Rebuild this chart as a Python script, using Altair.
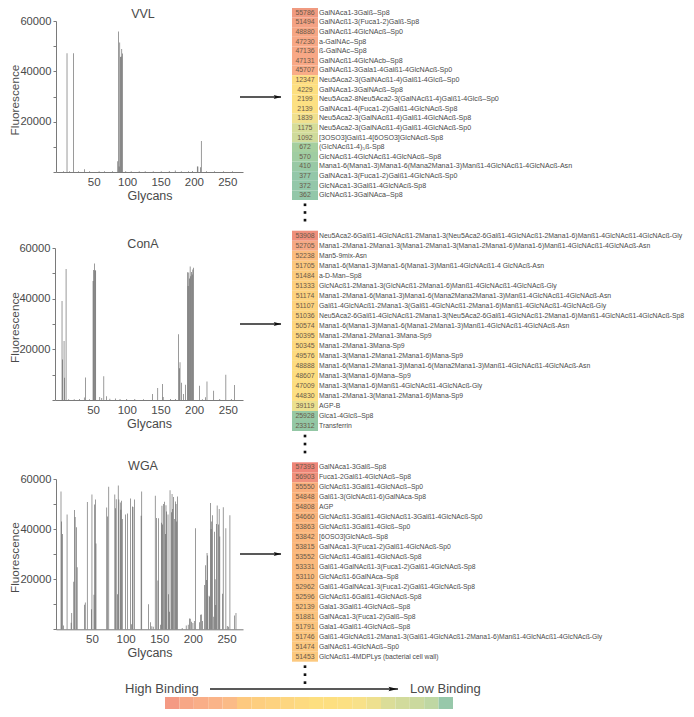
import altair as alt
import pandas as pd

CANVAS_W, CANVAS_H = 678, 701
TEXT = "#4a4a4a"
AXIS = "#7a7a7a"
FONT = "Liberation Sans"

vvl_glycans = [10, 20, 36, 86, 87, 88, 89, 90, 91, 92, 93, 172, 205, 206, 210, 211,
               5, 14, 27, 44, 58, 66, 78, 98, 106, 118, 127, 139, 151, 163, 181, 192, 198, 219, 231, 244, 258]
vvl_values = [47230, 47136, 1092, 4229, 55786, 2199, 51494, 45707, 45900, 48880, 47131, 570, 2139, 2139, 1839, 12347,
              300, 260, 280, 250, 300, 260, 310, 300, 280, 320, 270, 330, 290, 350, 300, 340, 377, 330, 300, 280, 260]

cona_glycans = [4, 5, 7, 8, 10, 37, 39, 50, 51, 52, 53, 54, 60, 63, 66, 70, 138, 146, 153, 154, 177, 178, 179, 181, 184, 187,
                190, 191, 192, 193, 194, 195, 196, 197, 198, 199, 208, 217, 219, 229, 247, 260,
                14, 22, 30, 45, 75, 83, 90, 100, 112, 125, 165, 172, 212, 238, 255]
cona_values = [39119, 16000, 23312, 8800, 51705, 1000, 8900, 47009, 51333, 53908, 51174, 51107, 1200, 800, 9400, 1500, 2400, 4700, 6300, 1200, 25928, 12500, 14900, 6800, 2400, 6000,
               50395, 45000, 50345, 48000, 52705, 48888, 50574, 49576, 51484, 52238, 5600, 1100, 7300, 3700, 10000, 5900,
               320, 300, 350, 300, 500, 600, 400, 380, 350, 340, 420, 400, 330, 350, 360]

wga_glycans = [4, 5, 6, 8, 13, 19, 20, 23, 24, 25, 27, 28, 39, 40, 43, 49, 50, 53, 54, 55, 56,
               72, 73, 75, 84, 85, 86, 88, 89, 90, 92, 93, 94, 95, 100, 103, 107, 109, 110, 111, 113,
               123, 124, 134, 137, 139, 141, 144, 146, 148, 149, 152, 153, 154, 155, 156, 158, 159, 160, 161,
               163, 164, 165, 166, 168, 169, 170, 171, 173, 174, 175, 176, 177,
               184, 190, 193, 195, 196, 198, 200, 202, 204, 210, 211, 213, 214, 217, 219, 220, 221, 222,
               224, 225, 226, 227, 228, 229, 231, 232, 233, 234, 235, 236, 238, 239, 240,
               244, 245, 249, 251, 253, 255, 262, 264]
wga_values = [55000, 43000, 38000, 1500, 45800, 2600, 6500, 19000, 47600, 44800, 40700, 24800, 9800, 10700, 50800, 8000, 53800, 13800, 49800, 51800, 34300,
              48600, 45000, 56903, 53800, 48300, 51900, 14000, 57393, 51800, 50600, 47700, 51300, 44000, 45800, 46200, 52200, 2000, 49000, 48800, 51800,
              45300, 55000, 10000, 2800, 1200, 1000, 53300, 44400, 19500, 44300, 1800, 42500, 49300, 41800, 50000, 50900, 38000, 49500, 47000,
              45800, 14000, 7000, 55550, 46700, 54000, 48000, 52800, 44000, 51000, 50000, 43000, 53000,
              500, 1500, 1800, 4300, 4200, 3000, 2500, 3300, 40300, 2800, 5800, 5900, 3300, 17700, 25600, 19700, 30500, 29500,
              13400, 13000, 50400, 40000, 43000, 45500, 5000, 38900, 20000, 9700, 42000, 49400, 41800, 48000, 37000,
              14200, 48700, 40300, 1300, 1000, 45500, 5500, 6500]

vvl_table_values = ["55786", "51494", "48880", "47230", "47136", "47131", "45707", "12347", "4229", "2199",
                    "2139", "1839", "1175", "1092", "672", "570", "410", "377", "372", "362"]
vvl_table_names = ["GalNAca1-3Galß–Sp8", "GalNAcß1-3(Fuca1-2)Galß-Sp8", "GalNAcß1-4GlcNAcß–Sp0", "a-GalNAc–Sp8",
                   "ß-GalNAc–Sp8", "GalNAcß1-4GlcNAcb–Sp8", "GalNAcß1-3Gala1-4Galß1-4GlcNAcß-Sp0",
                   "Neu5Aca2-3(GalNAcß1-4)Galß1-4Glcß–Sp0", "GalNAca1-3GalNAcß–Sp8",
                   "Neu5Aca2-8Neu5Aca2-3(GalNAcß1-4)Galß1-4Glcß–Sp0", "GalNAca1-4(Fuca1-2)Galß1-4GlcNAcß-Sp8",
                   "Neu5Aca2-3(GalNAcß1-4)Galß1-4GlcNAcß-Sp8", "Neu5Aca2-3(GalNAcß1-4)Galß1-4GlcNAcß-Sp0",
                   "[3OSO3]Galß1-4[6OSO3]GlcNAcß-Sp8", "(GlcNAcß1-4)₅ß-Sp8", "GlcNAcß1-4GlcNAcß1-4GlcNAcß–Sp8",
                   "Mana1-6(Mana1-3)Mana1-6(Mana2Mana1-3)Manß1-4GlcNAcß1-4GlcNAcß-Asn", "GalNAca1-3(Fuca1-2)Galß1-4GlcNAcß-Sp0",
                   "GlcNAca1-3Galß1-4GlcNAcß-Sp8", "GlcNAcß1-3GalNAca–Sp8"]
vvl_table_colors = ["#F09A80", "#F4A284", "#F6A684", "#F8A886", "#F8A886", "#F8A886", "#F9AC87", "#FDDC80", "#FDDF80", "#FDE082",
                    "#FCE083", "#F0E08E", "#D6DD99", "#CFDB9C", "#A5CFA0", "#A0CDA2", "#98C9A5", "#93C7A9", "#93C7A9", "#93C7A9"]

cona_table_values = ["53908", "52705", "52238", "51705", "51484", "51333", "51174", "51107", "51036", "50574",
                     "50395", "50345", "49576", "48888", "48607", "47009", "44830", "39119", "25928", "23312"]
cona_table_names = ["Neu5Aca2-6Galß1-4GlcNAcß1-2Mana1-3(Neu5Aca2-6Galß1-4GlcNAcß1-2Mana1-6)Manß1-4GlcNAcß1-4GlcNAcß-Gly",
                    "Mana1-2Mana1-2Mana1-3(Mana1-2Mana1-3(Mana1-2Mana1-6)Mana1-6)Manß1-4GlcNAcß1-4GlcNAcß-Asn",
                    "Man5-9mix-Asn", "Mana1-6(Mana1-3)Mana1-6(Mana1-3)Manß1-4GlcNAcß1-4 GlcNAcß-Asn", "a-D-Man–Sp8",
                    "GlcNAcß1-2Mana1-3(GlcNAcß1-2Mana1-6)Manß1-4GlcNAcß1-4GlcNAcß-Gly",
                    "Mana1-2Mana1-6(Mana1-3)Mana1-6(Mana2Mana2Mana1-3)Manß1-4GlcNAcß1-4GlcNAcß-Asn",
                    "Galß1-4GlcNAcß1-2Mana1-3(Galß1-4GlcNAcß1-2Mana1-6)Manß1-4GlcNAcß1-4GlcNAcß-Gly",
                    "Neu5Aca2-6Galß1-4GlcNAcß1-2Mana1-3(Neu5Aca2-6Galß1-4GlcNAcß1-2Mana1-6)Manß1-4GlcNAcß1-4GlcNAcß-Sp8",
                    "Mana1-6(Mana1-3)Mana1-6(Mana1-2Mana1-3)Manß1-4GlcNAcß1-4GlcNAcß-Asn", "Mana1-2Mana1-2Mana1-3Mana-Sp9",
                    "Mana1-2Mana1-3Mana-Sp9", "Mana1-3(Mana1-2Mana1-2Mana1-6)Mana-Sp9",
                    "Mana1-6(Mana1-2Mana1-3)Mana1-6(Mana2Mana1-3)Manß1-4GlcNAcß1-4GlcNAcß-Asn", "Mana1-3(Mana1-6)Mana–Sp9",
                    "Mana1-3(Mana1-6)Manß1-4GlcNAcß1-4GlcNAcß-Gly", "Mana1-2Mana1-3(Mana1-2Mana1-6)Mana-Sp9", "AGP-B",
                    "Glca1-4Glcß–Sp8", "Transferrin"]
cona_table_colors = ["#EE8F7C", "#F6A985", "#FBBC7F", "#FCC87F", "#FCCC7F", "#FDD07F", "#FDD27F", "#FDD37F", "#FDD480", "#FDD680",
                     "#FDD880", "#FDD980", "#FDDB80", "#FDDC80", "#FDDD80", "#FDDE81", "#FDDF82", "#EBE08F", "#96C8A4", "#93C7A5"]

wga_table_values = ["57393", "56903", "55550", "54848", "54808", "54660", "53863", "53842", "53815", "53552",
                    "53331", "53110", "52962", "52596", "52139", "51881", "51791", "51746", "51474", "51453"]
wga_table_names = ["GalNAca1-3Galß–Sp8", "Fuca1-2Galß1-4GlcNAcß–Sp8", "GlcNAcß1-3Galß1-4GlcNAcß–Sp0",
                   "Galß1-3(GlcNAcß1-6)GalNAca-Sp8", "AGP", "GlcNAcß1-3Galß1-4GlcNAcß1-3Galß1-4GlcNAcß-Sp0",
                   "GlcNAcß1-3Galß1-4Glcß–Sp0", "[6OSO3]GlcNAcß–Sp8", "GalNAca1-3(Fuca1-2)Galß1-4GlcNAcß-Sp0",
                   "GlcNAcß1-4Galß1-4GlcNAcß-Sp8", "Galß1-4GalNAcß1-3(Fuca1-2)Galß1-4GlcNAcß-Sp8", "GlcNAcß1-6GalNAca–Sp8",
                   "Galß1-4GalNAca1-3(Fuca1-2)Galß1-4GlcNAcß-Sp8", "GlcNAcß1-6Galß1-4GlcNAcß-Sp8", "Gala1-3Galß1-4GlcNAcß–Sp8",
                   "GalNAca1-3(Fuca1-2)Galß–Sp8", "Gala1-4Galß1-4GlcNAcß–Sp8",
                   "Galß1-4GlcNAcß1-2Mana1-3(Galß1-4GlcNAcß1-2Mana1-6)Manß1-4GlcNAcß1-4GlcNAcß-Gly", "GalNAcß1-4GlcNAcß–Sp0",
                   "GlcNAcß1-4MDPLys (bacterial cell wall)"]
wga_table_colors = ["#EE8578", "#F0907C", "#F9AE7C", "#FAB27C", "#FAB37C", "#FAB47C", "#FBB67D", "#FBB77D", "#FBB87D", "#FBB97D",
                    "#FBBA7D", "#FBBC7E", "#FBBE7E", "#FCC07E", "#FCC27E", "#FCC47F", "#FCC57F", "#FCC67F", "#FCC87F", "#FCC97F"]

colorbar_colors = ["#F49A84", "#F7A786", "#F9AE88", "#FAB489", "#FBBB87", "#FDC97F", "#FDCE7F", "#FDD280", "#FDD680", "#FDDA80",
                   "#FDDF80", "#FDDF80", "#FCE083", "#F8E189", "#EEE08F", "#DBDD98", "#D2DB9C", "#CBD99E", "#BFD7A3", "#97C8AA"]

dot_rows = [21.0, 21.8, 22.6]
bar_ticks = [0, 10000, 20000, 30000, 40000, 50000, 60000]
x_ticks = [50, 100, 150, 200, 250]

HEAD = "M-0.5,-0.26L0.5,0L-0.5,0.26L-0.32,0Z"


def bars(glycans, values, title, x_dom, x_rng, y_rng, title_x, title_y):
    df = pd.DataFrame({"g": glycans, "v": values})
    main = alt.Chart(df).mark_bar(size=0.6, color="#585858", orient="vertical").encode(
        x=alt.X("g:Q", scale=alt.Scale(domain=x_dom, range=x_rng, nice=False, zero=False),
                axis=alt.Axis(values=x_ticks, title="Glycans", grid=False, orient="bottom",
                              offset=y_rng[0] - CANVAS_H, ticks=False, domainColor=AXIS, domainWidth=1,
                              labelFont=FONT, labelFontSize=11.5, labelColor=TEXT, labelPadding=4,
                              titleFont=FONT, titleFontSize=12.5, titleFontWeight="normal", titleColor=TEXT,
                              titlePadding=2, labelFlush=False)),
        y=alt.Y("v:Q", stack=None, scale=alt.Scale(domain=[0, 60000], range=y_rng, nice=False),
                axis=alt.Axis(values=bar_ticks, title="Fluorescence", grid=False, orient="left",
                              offset=-x_rng[0], tickSize=3, tickColor=AXIS, domainColor=AXIS,
                              labelExpr="datum.value % 20000 === 0 && datum.value > 0 ? datum.value : ''",
                              labelFont=FONT, labelFontSize=11.2, labelColor=TEXT, labelPadding=2,
                              titleFont=FONT, titleFontSize=11.8, titleFontWeight="normal", titleColor=TEXT,
                              titleX=12.5 - x_rng[0], titleBaseline="bottom",
                              titleY=(y_rng[0] + y_rng[1]) / 2 + 3)),
    )
    ttl = alt.Chart(pd.DataFrame({"t": [title]})).mark_text(
        font=FONT, fontSize=12.5, color=TEXT, align="center", baseline="middle"
    ).encode(text="t:N", x=alt.value(title_x), y=alt.value(title_y))
    return [main, ttl]


def table(vals, names, colors, y_rng, label_size):
    df = pd.DataFrame({"row": list(range(1, 21)), "val": vals, "name": names, "c": colors})
    df["lo"] = df["row"] - 0.5
    df["hi"] = df["row"] + 0.5
    y_scale = alt.Scale(domain=[0.5, 20.5], range=y_rng, nice=False, zero=False)
    cells = alt.Chart(df).mark_rect().encode(
        x=alt.value(284), x2=alt.value(310),
        y=alt.Y("lo:Q", scale=y_scale, axis=None), y2="hi:Q",
        color=alt.Color("c:N", scale=None),
    )
    nums = alt.Chart(df).mark_text(font=FONT, fontSize=6.9, color="#6a5a4a", align="center", baseline="middle").encode(
        x=alt.value(297), y=alt.Y("row:Q", scale=y_scale, axis=None), text="val:N")
    labels = alt.Chart(df).mark_text(font=FONT, fontSize=label_size, color=TEXT, align="left", baseline="middle").encode(
        x=alt.value(311), y=alt.Y("row:Q", scale=y_scale, axis=None), text="name:N")
    dots = alt.Chart(pd.DataFrame({"row": dot_rows})).mark_square(size=7, color="#111111", opacity=1).encode(
        x=alt.value(297), y=alt.Y("row:Q", scale=y_scale, axis=None))
    return [cells, nums, labels, dots]


def arrow(x0, x1, y, head):
    line = alt.Chart(pd.DataFrame({"a": [0]})).mark_rule(color="#222222", strokeWidth=1.3).encode(
        x=alt.value(x0), x2=alt.value(x1 - 4), y=alt.value(y))
    tip = alt.Chart(pd.DataFrame({"a": [0]})).mark_point(
        shape=HEAD, size=head * head, filled=True, color="#111111", opacity=1, strokeWidth=0
    ).encode(x=alt.value(x1 - head / 2), y=alt.value(y))
    return [line, tip]


layers = []
layers += bars(vvl_glycans, vvl_values, "VVL", [1, 266], [48, 235], [164, 13], 135, 6)
layers += bars(cona_glycans, cona_values, "ConA", [1, 265], [47, 235], [392, 240], 135, 236)
layers += bars(wga_glycans, wga_values, "WGA", [4, 267], [48, 235], [621.3, 471], 135, 458)
layers += table(vvl_table_values, vvl_table_names, vvl_table_colors, [0, 192], 7.1)
layers += table(cona_table_values, cona_table_names, cona_table_colors, [222.7, 423], 6.85)
layers += table(wga_table_values, wga_table_names, wga_table_colors, [454.3, 653.7], 6.75)
layers += arrow(232, 277, 89, 15)
layers += arrow(232, 277, 316, 15)
layers += arrow(232, 277, 546, 15)
layers += arrow(202, 394, 681, 18)

foot = pd.DataFrame({"t": ["High Binding", "Low  Binding"], "x": [117, 402]})
for _, r in foot.iterrows():
    layers.append(alt.Chart(pd.DataFrame({"t": [r["t"]]})).mark_text(
        font=FONT, fontSize=13, color=TEXT, align="left", baseline="middle"
    ).encode(text="t:N", x=alt.value(float(r["x"])), y=alt.value(681)))

bar_df = pd.DataFrame({"i": list(range(20)), "c": colorbar_colors})
bar_df["j"] = bar_df["i"] + 1
layers.append(alt.Chart(bar_df).mark_rect().encode(
    x=alt.X("i:Q", scale=alt.Scale(domain=[0, 20], range=[157, 445], nice=False, zero=False), axis=None),
    x2="j:Q",
    y=alt.value(689), y2=alt.value(701),
    color=alt.Color("c:N", scale=None),
))

chart = alt.layer(*layers).resolve_scale(x="independent", y="independent").resolve_axis(
    x="independent", y="independent"
).properties(width=CANVAS_W, height=CANVAS_H, padding=0, autosize=alt.AutoSizeParams(type="none")
).configure_view(stroke=None).configure_axis(labelOverlap=False)

chart.save("out.html", embed_options={"renderer": "svg", "actions": False})
